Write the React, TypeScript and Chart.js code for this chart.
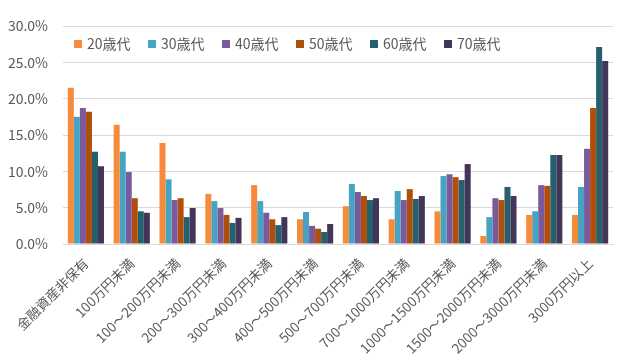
import React, { useEffect, useRef } from "react";
import { Chart, registerables } from "chart.js";

Chart.register(...registerables);

const categories = [
  "金融資産非保有",
  "100万円未満",
  "100～200万円未満",
  "200～300万円未満",
  "300～400万円未満",
  "400～500万円未満",
  "500～700万円未満",
  "700～1000万円未満",
  "1000～1500万円未満",
  "1500～2000万円未満",
  "2000～3000万円未満",
  "3000万円以上",
];

const seriesNames = ["20歳代", "30歳代", "40歳代", "50歳代", "60歳代", "70歳代"];
const seriesColors = ["#F68B3C", "#46A3C2", "#7A5A9B", "#B04E0C", "#25606F", "#433458"];

const age20 = [21.5, 16.4, 13.9, 6.9, 8.1, 3.4, 5.2, 3.4, 4.5, 1.1, 4.0, 4.0];
const age30 = [17.5, 12.7, 8.9, 5.9, 5.9, 4.4, 8.25, 7.3, 9.35, 3.7, 4.5, 7.85];
const age40 = [18.7, 9.9, 6.05, 4.95, 4.3, 2.5, 7.15, 6.05, 9.6, 6.3, 8.1, 13.1];
const age50 = [18.2, 6.3, 6.3, 4.0, 3.4, 2.1, 6.6, 7.55, 9.2, 6.05, 8.0, 18.7];
const age60 = [12.7, 4.5, 3.7, 2.9, 2.6, 1.65, 6.05, 6.2, 8.8, 7.85, 12.25, 27.1];
const age70 = [10.7, 4.3, 4.95, 3.6, 3.7, 2.75, 6.3, 6.6, 11.0, 6.6, 12.25, 25.2];

const seriesValues = [age20, age30, age40, age50, age60, age70];

const FONT = "'Noto Sans CJK JP', 'Noto Sans', sans-serif";

const insideLegend = {
  id: "insideLegend",
  afterDraw(chart: any) {
    const { ctx, chartArea } = chart;
    ctx.save();
    ctx.font = `14px ${FONT}`;
    ctx.textBaseline = "middle";
    ctx.textAlign = "left";
    let x = chartArea.left + 11;
    const y = chartArea.top + 18;
    chart.data.datasets.forEach((ds: any) => {
      ctx.fillStyle = ds.backgroundColor;
      ctx.fillRect(x, y - 4, 8, 8);
      ctx.fillStyle = "#595959";
      ctx.fillText(ds.label, x + 13, y);
      x += 74;
    });
    ctx.restore();
  },
};

export default function App() {
  const ref = useRef<HTMLCanvasElement | null>(null);
  useEffect(() => {
    document.body.style.margin = "0";
    const ctx = ref.current!;
    const chart = new Chart(ctx, {
      type: "bar",
      data: {
        labels: categories,
        datasets: seriesNames.map((name, i) => ({
          label: name,
          data: seriesValues[i],
          backgroundColor: seriesColors[i],
          borderWidth: 0,
          barPercentage: 1.0,
          categoryPercentage: 0.79,
        })),
      },
      options: {
        animation: false,
        responsive: false,
        maintainAspectRatio: false,
        layout: { padding: { top: 26, right: 10, left: 0, bottom: 0 } },
        plugins: {
          tooltip: { enabled: false },
          legend: { display: false },
        },
        scales: {
          x: {
            grid: { display: false, drawTicks: false },
            border: { color: "#D9D9D9" },
            afterFit: (s: any) => {
              s.height = 118;
            },
            ticks: {
              autoSkip: false,
              minRotation: 45,
              maxRotation: 45,
              color: "#595959",
              font: { family: FONT, size: 13.5 },
              padding: 11,
            },
          },
          y: {
            min: 0,
            max: 30,
            afterFit: (s: any) => {
              s.width = 63;
            },
            grid: { color: "#D9D9D9", drawTicks: false },
            border: { display: false },
            ticks: {
              stepSize: 5,
              color: "#595959",
              font: { family: FONT, size: 14 },
              padding: 15,
              callback: (v: any) => Number(v).toFixed(1) + "%",
            },
          },
        },
      },
      plugins: [insideLegend],
    } as any);
    return () => chart.destroy();
  }, []);
  return <canvas ref={ref} width={623} height={362} style={{ display: "block" }} />;
}
